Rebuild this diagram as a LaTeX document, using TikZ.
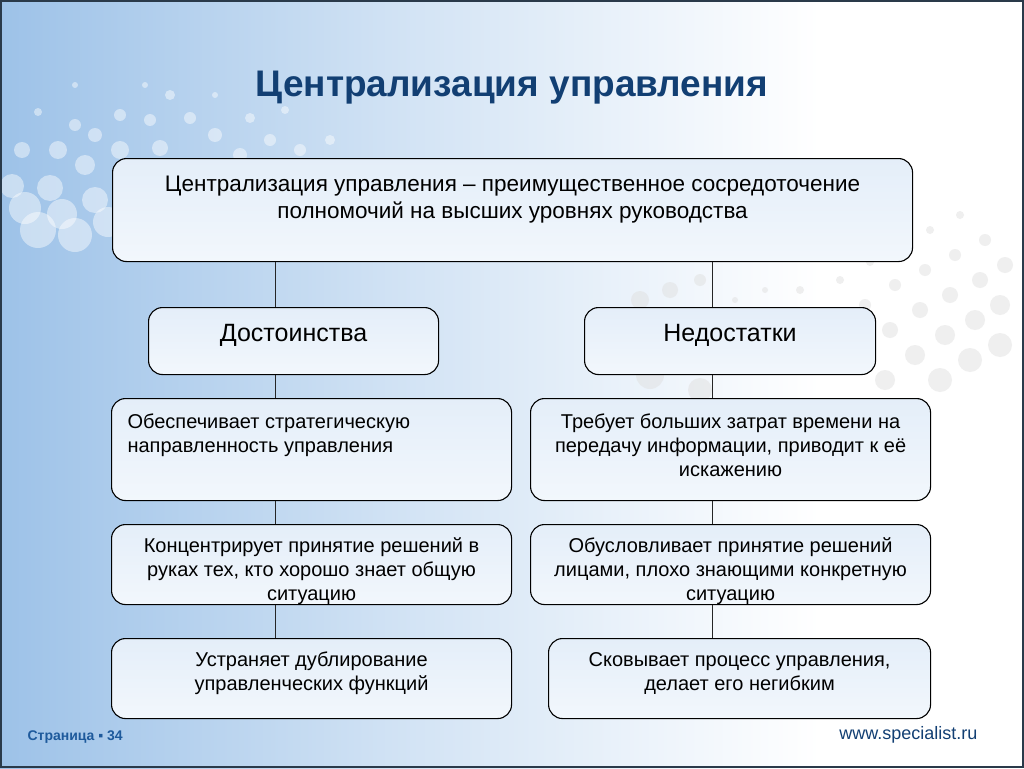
\documentclass[tikz,border=0pt]{standalone}
\usepackage{fontspec}
\setmainfont{Liberation Sans}
\usetikzlibrary{calc}
\definecolor{titleblue}{HTML}{123F73}
\definecolor{footblue}{HTML}{1E5A9C}
\definecolor{bgblue}{HTML}{9DC2E8}
\definecolor{boxtop}{HTML}{E4EEF9}
\definecolor{boxbot}{HTML}{F2F7FC}
\definecolor{framec}{HTML}{2A3A4A}
\newcommand\mybx[5]{\parbox[c][#2][t]{#1}{#4\rule{0pt}{#3}#5}}
\tikzset{
  box/.style={draw=black, line width=1.1pt, rounded corners=14pt, inner xsep=0pt, inner ysep=0pt,
    top color=boxtop, bottom color=boxbot, anchor=north west},
  conn/.style={draw=black!85, line width=0.9pt},
  boxfont/.style={font=\fontsize{20}{24}\selectfont},
  headfont/.style={font=\fontsize{25}{28}\selectfont},
}
\begin{document}
\begin{tikzpicture}[x=1pt,y=1pt]
\useasboundingbox (0,0) rectangle (1024,-768);
% background
\fill[white] (0,0) rectangle (1024,-768);
\shade[left color=bgblue, right color=white, middle color=bgblue!45] (0,0) rectangle (820,-768);
% left decorative dots
\foreach \cx/\cy/\r in {
 12/-186/12, 25/-208/16, 38/-230/18, 22/-150/8, 50/-188/13, 62/-214/15,
 75/-235/17, 38/-112/4, 58/-150/9, 85/-165/10, 95/-200/13, 108/-222/15,
 75/-125/6, 95/-135/7, 120/-150/9, 132/-175/11, 150/-200/13,
 120/-115/6, 150/-120/6, 160/-148/8, 175/-170/9, 190/-190/10,
 75/-85/3, 145/-85/3, 170/-95/5, 190/-118/6, 215/-135/7, 215/-95/3, 250/-118/5,
 240/-155/7, 270/-140/6, 285/-110/4, 300/-150/6, 330/-140/5 }
  \fill[white, opacity=0.45] (\cx,\cy) circle (\r);
% right decorative dots
\foreach \cx/\cy/\r in {
 960/-215/4, 985/-240/6, 1005/-265/8, 930/-230/4, 955/-255/6, 980/-280/8, 1000/-305/10,
 900/-245/4, 925/-270/6, 950/-295/8, 975/-320/10, 1000/-345/12,
 870/-262/4, 895/-285/6, 920/-310/8, 945/-335/10, 970/-360/12,
 840/-280/4, 865/-305/6, 890/-330/8, 915/-355/10, 940/-380/12,
 800/-290/4, 830/-320/6, 860/-350/8, 885/-380/10, 765/-290/3, 790/-330/5, 735/-300/3,
 640/-300/9, 670/-290/8, 700/-280/6, 610/-320/12, 660/-330/12, 650/-375/14, 700/-390/12 }
  \fill[black!12, opacity=0.5] (\cx,\cy) circle (\r);
% frame
\draw[framec, line width=2pt] (1,-1) rectangle (1023,-767);
% title
\node (title) at (512,-88) {\fontsize{37}{40}\selectfont\bfseries\color{titleblue}Централизация управления};
% boxes
\node[box, font=\fontsize{22.5}{27}\selectfont] (top) at (112,-158) {\mybx{800pt}{103pt}{33pt}{\centering}{Централизация управления – преимущественное сосредоточение\\полномочий на высших уровнях руководства}};
\node[box, headfont] (pro) at (148,-307) {\mybx{290pt}{67pt}{34pt}{\centering}{Достоинства}};
\node[box, headfont] (con) at (584,-307) {\mybx{291pt}{67pt}{34pt}{\centering}{Недостатки}};
\node[box, boxfont, inner xsep=16pt] (p1) at (111,-398) {\mybx{368pt}{102pt}{30pt}{\raggedright}{Обеспечивает стратегическую\\направленность управления}};
\node[box, boxfont] (c1) at (530,-398) {\mybx{400pt}{102pt}{30pt}{\centering}{Требует больших затрат времени на\\передачу информации, приводит к её\\искажению}};
\node[box, boxfont] (p2) at (111,-524) {\mybx{400pt}{80pt}{28pt}{\centering}{Концентрирует принятие решений в\\руках тех, кто хорошо знает общую\\ситуацию}};
\node[box, boxfont] (c2) at (530,-524) {\mybx{400pt}{80pt}{28pt}{\centering}{Обусловливает принятие решений\\лицами, плохо знающими конкретную\\ситуацию}};
\node[box, boxfont] (p3) at (111,-638) {\mybx{400pt}{80pt}{28pt}{\centering}{Устраняет дублирование\\управленческих функций}};
\node[box, boxfont] (c3) at (548,-638) {\mybx{382pt}{80pt}{28pt}{\centering}{Сковывает процесс управления,\\делает его негибким}};
% connector columns
\coordinate (lx) at (275,0);
\coordinate (rx) at (712,0);
\draw[conn] (top.south -| lx) -- (pro.north -| lx);
\draw[conn] (pro.south -| lx) -- (p1.north -| lx);
\draw[conn] (p1.south -| lx) -- (p2.north -| lx);
\draw[conn] (p2.south -| lx) -- (p3.north -| lx);
\draw[conn] (top.south -| rx) -- (con.north -| rx);
\draw[conn] (con.south -| rx) -- (c1.north -| rx);
\draw[conn] (c1.south -| rx) -- (c2.north -| rx);
\draw[conn] (c2.south -| rx) -- (c3.north -| rx);
% footer
\node[anchor=west, text=footblue, font=\fontsize{14}{16}\selectfont\bfseries] (page) at (24,-737) {Страница ▪ 34};
\node[anchor=east, text=titleblue, font=\fontsize{18}{20}\selectfont] (site) at (981,-735) {www.specialist.ru};
\end{tikzpicture}
\end{document}
